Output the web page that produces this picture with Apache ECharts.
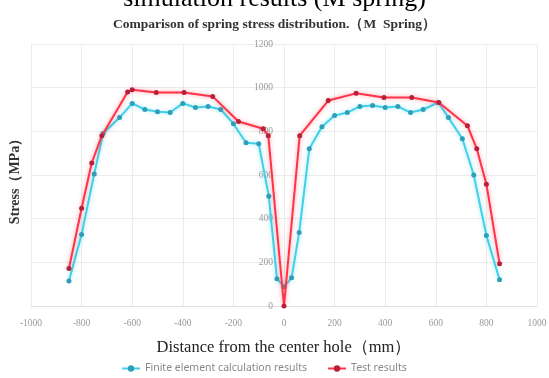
<!DOCTYPE html>
<html>
<head>
<meta charset="utf-8">
<script src="https://cdn.jsdelivr.net/npm/echarts@6/dist/echarts.min.js"></script>
<style>html,body{margin:0;padding:0;background:#fff}#c{width:549px;height:378px}</style>
</head>
<body>
<div id="c"></div>
<script>
const xTicks = [-1000, -800, -600, -400, -200, 0, 200, 400, 600, 800, 1000];
const yTicks = [0, 200, 400, 600, 800, 1000, 1200];

const feX = [-850, -800, -750, -715, -650, -600, -550, -500, -450, -400, -350, -300, -250, -200, -150, -100, -60, -28, 0, 30, 60, 100, 150, 200, 250, 300, 350, 400, 450, 500, 550, 610, 650, 705, 750, 800, 852];
const feY = [115, 328, 605, 790, 863, 928, 900, 890, 886, 928, 909, 914, 900, 835, 748, 743, 503, 125, 88, 129, 337, 720, 821, 872, 886, 914, 918, 909, 914, 886, 900, 932, 863, 766, 600, 323, 120];

const testX = [-850, -800, -760, -720, -618, -600, -505, -395, -282, -180, -82, -62, 0, 62, 175, 285, 395, 505, 612, 725, 762, 800, 852];
const testY = [172, 448, 655, 780, 980, 990, 978, 978, 960, 845, 812, 780, 0, 780, 941, 974, 955, 955, 932, 826, 720, 558, 194];

const seriesNames = ['Finite element calculation results', 'Test results'];

function pairs(xs, ys) { return xs.map((x, i) => [x, ys[i]]); }

const chart = echarts.init(document.getElementById('c'));
chart.setOption({
  backgroundColor: '#fff',
  animation: false,
  graphic: [
    {
      type: 'text', left: 'center', top: -14,
      style: { text: 'simulation results (M spring)', font: '26px "Liberation Serif", serif', fill: '#000' }
    },
    {
      type: 'text', x: 15, y: 178, rotation: Math.PI / 2,
      style: { text: 'Stress（MPa）', font: 'bold 14px "Liberation Serif", serif', fill: '#333', align: 'center', verticalAlign: 'middle' }
    }
  ],
  title: {
    text: 'Comparison of spring stress distribution.（M  Spring）',
    left: 'center', top: 13,
    textStyle: { fontFamily: '"Liberation Serif", serif', fontWeight: 'bold', fontSize: 13.5, color: '#333' }
  },
  grid: { left: 31, right: 12, top: 44, bottom: 72, containLabel: false, outerBoundsMode: 'none' },
  legend: {
    data: seriesNames,
    top: 358, left: 116,
    itemWidth: 18, itemHeight: 8, itemGap: 20,
    textStyle: { fontFamily: '"Noto Sans", sans-serif', fontSize: 10.5, color: '#888' }
  },
  xAxis: {
    type: 'value', min: -1000, max: 1000, interval: 200,
    name: 'Distance from the center hole（mm）', nameLocation: 'middle', nameGap: 33,
    nameTextStyle: { fontFamily: '"Liberation Serif", serif', fontSize: 16.5, color: '#222' },
    axisLine: { show: true, lineStyle: { color: '#e0e0e0' } },
    axisTick: { show: false },
    axisLabel: { fontFamily: '"Liberation Serif", serif', fontSize: 9.5, color: '#999', margin: 12, formatter: v => String(v) },
    splitLine: { show: true, lineStyle: { color: '#ececec' } }
  },
  yAxis: {
    type: 'value', min: 0, max: 1200, interval: 200,
    position: 'left', offset: -252,
    axisLine: { show: false },
    axisTick: { show: false },
    axisLabel: { fontFamily: '"Liberation Serif", serif', fontSize: 9.5, color: '#999', margin: 10, formatter: v => String(v) },
    splitLine: { show: true, lineStyle: { color: '#ececec' } }
  },
  series: [
    {
      name: seriesNames[0], type: 'line', data: pairs(feX, feY),
      symbol: 'circle', symbolSize: 5,
      lineStyle: { color: '#3fd0ea', width: 2, shadowColor: 'rgba(63,208,234,0.5)', shadowBlur: 4 },
      itemStyle: { color: '#2e9fb8' },
      z: 2
    },
    {
      name: seriesNames[1], type: 'line', data: pairs(testX, testY),
      symbol: 'circle', symbolSize: 5,
      lineStyle: { color: '#ff3347', width: 2, shadowColor: 'rgba(255,51,71,0.5)', shadowBlur: 4 },
      itemStyle: { color: '#b8203a' },
      z: 3
    }
  ]
});
</script>
</body>
</html>
